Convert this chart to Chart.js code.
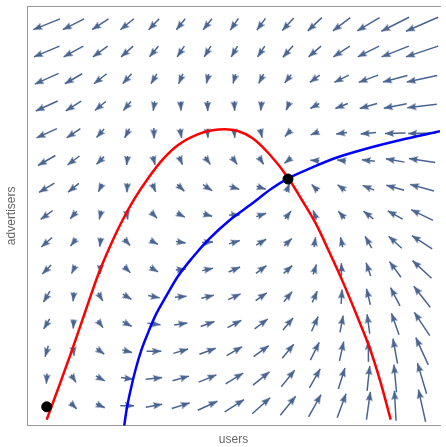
<!DOCTYPE html>
<html>
<head>
<meta charset="utf-8">
<script src="https://cdn.jsdelivr.net/npm/chart.js@4"></script>
<style>
  html, body { margin: 0; padding: 0; background: #fff; overflow: hidden; }
  #wrap { width: 446px; height: 447px; }
</style>
</head>
<body>
<div id="wrap"><canvas id="chart"></canvas></div>
<script>
// sample grid: users across, advertisers from the top row down
const usersGrid = [0, 1, 2, 3, 4, 5, 6, 7, 8, 9, 10, 11, 12, 13, 14];
const advertisersGrid = [14, 13, 12, 11, 10, 9, 8, 7, 6, 5, 4, 3, 2, 1, 0];

// field components (rows top to bottom)
const fieldU = [
  [-27.3, -21.7, -16.7, -13.7, -10.7, -9, -9, -8.3, -8.7, -11.7, -14.3, -17.7, -22.7, -28.3, -32.7],
  [-26, -20, -15, -12.3, -9, -7.3, -6.7, -6.3, -7.3, -10.3, -12.7, -16.7, -21.7, -27.7, -32.7],
  [-24.3, -17.7, -13, -9, -6, -4.3, -2.3, -2.7, -5, -6.7, -10, -14.7, -19.7, -25, -31],
  [-22.3, -15.7, -11, -7.7, -1.5, 0.5, 0.3, 0.5, -0.7, -3, -9, -12.7, -17.7, -23.3, -30],
  [-20.7, -14, -7.7, -5, 0.3, 1.7, 0.7, 0.7, 2, -4, -8.3, -11, -15.7, -21, -28.3],
  [-17.7, -12.3, -7.7, -1, 2.3, 3.3, 5.7, 5.7, 4.3, -6.7, -7.5, -9, -13.3, -19, -26.7],
  [-15.7, -11, -4, -0.5, 3, 7.3, 9.3, 10, 9.3, 2, -5, -8.3, -11.7, -18, -24.3],
  [-12.3, -6.7, -2, 1, 6, 8.3, 9.3, 10.7, 10, 6, -3.3, -6.7, -10, -15.3, -22.3],
  [-11, -6, -1, 6, 7.7, 10, 11, 11, 10, 7.7, 1.5, -2.3, -6.7, -13.3, -20.7],
  [-9, -4, 0, 5.7, 8.3, 10, 11, 11.7, 10.7, 8.7, 3.3, -0.5, -4.7, -11.7, -19.3],
  [-6.7, -1, 5, 8.7, 11.7, 11.7, 12.7, 12.7, 11.3, 8.3, 5, 1, -4, -9.7, -16.7],
  [-6, -0.5, 5, 9.3, 13.3, 13.3, 14, 14, 13.3, 10.3, 6.7, 3.3, -2.7, -7.7, -15.7],
  [-3.3, 1, 8, 10, 15, 15, 16.7, 15.7, 15.3, 11.7, 9, 4.3, 0, -4.7, -12.7],
  [-0.7, 5, 9, 12.3, 16.7, 16.7, 18, 17.7, 16.7, 13.7, 11, 6.7, 2.7, -2.7, -9.3],
  [0, 5, 9, 14, 16.7, 18.3, 20, 19.7, 18.3, 15.7, 12.7, 9, 4, -1.7, -7.3]
];
const fieldV = [
  [-10.7, -10.7, -10.7, -11, -11, -11, -11, -11.7, -11.7, -12.7, -13.3, -13.3, -13.3, -14, -14],
  [-10.7, -10.7, -10.7, -10.7, -10.7, -10.7, -10.7, -10.7, -10.7, -11.7, -10.7, -10.7, -10.7, -10.7, -10.7],
  [-10.7, -10, -10, -10, -10, -10, -9.3, -9.3, -9.3, -8.3, -7.3, -7.3, -7.3, -6.7, -6.7],
  [-10, -9.7, -9, -9, -9.5, -9, -10, -9.3, -8.3, -7, -5, -5, -5, -4.3, -3.3],
  [-9.3, -9.3, -8.3, -9.3, -10.3, -9.3, -8.7, -7.7, -8.3, -4, -3.3, -1.7, -1.3, -0.7, -0.7],
  [-10, -9, -7.7, -9, -8.3, -7.7, -7.7, -7.7, -6.7, -5.3, 0.5, 1, 1.3, 3.3, 4],
  [-9.3, -8.7, -8, -9, -7, -6.7, -6, -3.3, -3, 5, 5, 6, 4.7, 5, 6.7],
  [-9, -7.7, -8, -7, -6, -4.3, -2.7, 0, 3.3, 7.7, 9, 7.3, 7.7, 8.3, 10.7],
  [-9.5, -7.5, -8.5, -6.7, -4.3, -1.7, 0.7, 3.3, 6, 7.3, 10, 10, 11.7, 12, 13.3],
  [-9, -8, -8.3, -5.7, -5, 1, 2.3, 5, 7.7, 7.7, 10, 12.7, 13.3, 15.7, 17.7],
  [-11, -9, -8.3, -5.3, -2.3, 1, 3, 5.7, 7.7, 10, 11.3, 14.3, 16, 18.3, 21],
  [-10, -9, -6.7, -5, -1.7, 2, 5, 7.3, 10, 12, 14.7, 16.7, 19.3, 21.7, 23.3],
  [-11, -9, -5.7, -2.7, 0, 4.3, 6, 9, 11, 14, 17.7, 19.3, 21.3, 25, 27.3],
  [-10, -7.7, -5, -1.7, 1.7, 4.7, 7.3, 10.7, 13.3, 16.7, 19, 21, 25, 27.7, 30.7],
  [0, -5, -4, 0, 3, 5.7, 9, 12.3, 16, 19, 22.3, 24, 27.7, 30, 32.3]
];

// red curve (users change sign here)
const redX = [0, 0.48, 0.92, 1.43, 1.95, 2.39, 2.76, 3.27, 3.79, 4.34, 4.89, 5.63, 6.18, 6.65, 7.1, 7.68, 8.31, 9.01, 9.52, 10.04, 10.55, 11.07, 11.58, 12.06, 12.46, 12.83];
const redY = [-0.51, 0.77, 1.97, 3.43, 4.89, 5.91, 6.68, 7.59, 8.36, 9.05, 9.56, 9.96, 10.11, 10.15, 10.09, 9.82, 9.23, 8.36, 7.55, 6.68, 5.62, 4.49, 3.28, 2.08, 0.84, -0.51];

// blue curve (advertisers change sign here)
const blueX = [2.87, 2.98, 3.13, 3.31, 3.53, 3.79, 4.08, 4.45, 4.89, 5.44, 6.07, 6.8, 7.65, 8.38, 9.04, 9.85, 10.77, 11.88, 13.16, 14.67];
const blueY = [-0.88, -0.15, 0.58, 1.31, 2.04, 2.7, 3.36, 4.01, 4.74, 5.44, 6.13, 6.79, 7.41, 7.96, 8.36, 8.72, 9.09, 9.42, 9.74, 10.07];

// equilibria
const eqX = [0, 9.0];
const eqY = [-0.04, 8.32];

const arrowColor = '#4a6491';
const arrowScale = 1 / 27.3;   // field units -> grid units
const headLen = 9, headWid = 7;

function makeHead() {
  const c = document.createElement('canvas');
  c.width = headLen * 2;
  c.height = headWid;
  const g = c.getContext('2d');
  g.fillStyle = arrowColor;
  g.beginPath();
  g.moveTo(headLen, headWid / 2);
  g.lineTo(0, 0);
  g.lineTo(headLen * 0.15, headWid / 2);
  g.lineTo(0, headWid);
  g.closePath();
  g.fill();
  return c;
}

const shafts = [];
const tips = [];
const tipAngles = [];
advertisersGrid.forEach((gy, r) => {
  usersGrid.forEach((gx, c) => {
    const u = fieldU[r][c], v = fieldV[r][c];
    const mag = Math.hypot(u, v);
    if (mag === 0) return;
    const len = Math.max(mag, headLen) * arrowScale;
    const dx = u / mag, dy = v / mag;
    shafts.push({ x: gx - dx * len / 2, y: gy - dy * len / 2 });
    shafts.push({ x: gx + dx * len / 2, y: gy + dy * len / 2 });
    shafts.push({ x: gx, y: null });
    tips.push({ x: gx + dx * len / 2, y: gy + dy * len / 2 });
    tipAngles.push(Math.atan2(-dy, dx) * 180 / Math.PI);
  });
});

const head = makeHead();
const font = { family: 'Liberation Sans', size: 12 };

new Chart(document.getElementById('chart'), {
  type: 'scatter',
  data: {
    datasets: [
      {
        data: eqX.map((x, i) => ({ x: x, y: eqY[i] })),
        backgroundColor: '#000',
        borderColor: '#000',
        pointRadius: 5,
        clip: false
      },
      {
        data: blueX.map((x, i) => ({ x: x, y: blueY[i] })),
        showLine: true,
        borderColor: '#0000ff',
        borderWidth: 2.5,
        pointRadius: 0,
        cubicInterpolationMode: 'monotone',
        clip: 0
      },
      {
        data: redX.map((x, i) => ({ x: x, y: redY[i] })),
        showLine: true,
        borderColor: '#ff0000',
        borderWidth: 2.5,
        pointRadius: 0,
        cubicInterpolationMode: 'monotone',
        clip: 0
      },
      {
        data: tips,
        pointStyle: head,
        rotation: tipAngles,
        pointRadius: 4
      },
      {
        data: shafts,
        showLine: true,
        spanGaps: false,
        borderColor: arrowColor,
        borderWidth: 1.5,
        pointRadius: 0
      }
    ]
  },
  options: {
    responsive: true,
    maintainAspectRatio: false,
    animation: false,
    events: [],
    layout: { padding: { top: 4, left: 0, right: 0, bottom: 0 } },
    plugins: { legend: { display: false }, tooltip: { enabled: false } },
    scales: {
      x: {
        type: 'linear',
        min: -0.735,
        max: 14.67,
        grid: { display: false, drawTicks: false },
        ticks: { display: false },
        border: { color: '#999', width: 1 },
        title: { display: true, text: 'users', color: '#666', font: font, padding: { top: 7, bottom: 0 } }
      },
      x2: {
        type: 'linear',
        position: 'top',
        min: -0.735,
        max: 14.67,
        grid: { display: false, drawTicks: false },
        ticks: { display: false },
        border: { color: '#999', width: 1 }
      },
      y: {
        type: 'linear',
        min: -0.73,
        max: 14.67,
        grid: { display: false, drawTicks: false },
        ticks: { display: false },
        border: { color: '#999', width: 1 },
        title: { display: true, text: 'advertisers', color: '#666', font: font, padding: { top: 4, bottom: 8.6 } }
      }
    }
  }
});
</script>
</body>
</html>
